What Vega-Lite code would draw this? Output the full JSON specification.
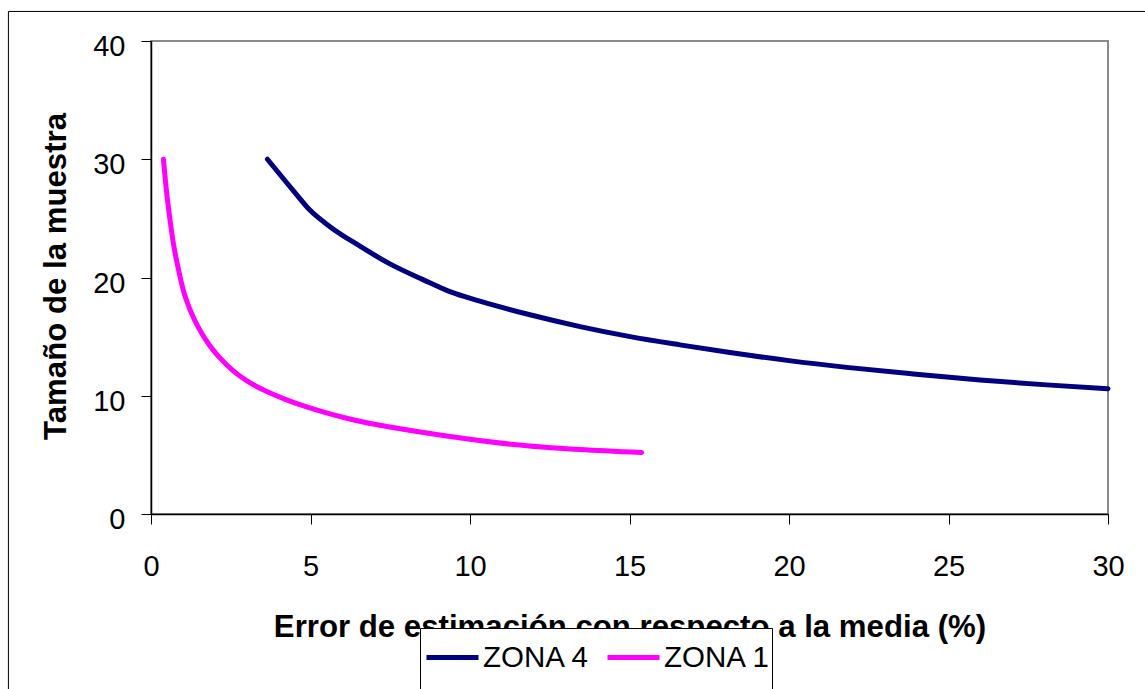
{
  "$schema": "https://vega.github.io/schema/vega-lite/v6.json",
  "width": 957,
  "height": 473,
  "autosize": {"type": "none"},
  "padding": {"left": 151, "top": 41, "right": 37, "bottom": 175},
  "background": "white",
  "config": {
    "view": {"stroke": "#8c8c8c", "strokeWidth": 2},
    "font": "Liberation Sans",
    "axis": {
      "grid": false,
      "domainColor": "#000000",
      "domainWidth": 1.5,
      "tickColor": "#000000",
      "tickWidth": 1,
      "tickSize": 10,
      "labelFont": "Liberation Sans",
      "labelFontSize": 29,
      "labelColor": "#000000",
      "labelFlush": false,
      "labelOverlap": false,
      "titleFont": "Liberation Sans",
      "titleFontSize": 31.2,
      "titleFontWeight": "bold",
      "titleColor": "#000000"
    }
  },
  "layer": [
    {
      "data": {"values": [{"frame": "outer"}]},
      "mark": {"type": "rect", "fill": null, "fillOpacity": 0, "stroke": "#000000", "strokeWidth": 1, "clip": false},
      "encoding": {
        "x": {"datum": -4.47, "type": "quantitative"},
        "x2": {"datum": 36},
        "y": {"datum": 42.5, "type": "quantitative"},
        "y2": {"datum": -20}
      }
    },
    {
      "data": {
        "values": [
          {"zona": "ZONA 4", "error": 3.65, "n": 30.0},
          {"zona": "ZONA 4", "error": 4.46, "n": 27.35},
          {"zona": "ZONA 4", "error": 4.98, "n": 25.7},
          {"zona": "ZONA 4", "error": 5.61, "n": 24.3},
          {"zona": "ZONA 4", "error": 6.55, "n": 22.65},
          {"zona": "ZONA 4", "error": 7.49, "n": 21.15},
          {"zona": "ZONA 4", "error": 8.54, "n": 19.8},
          {"zona": "ZONA 4", "error": 9.37, "n": 18.8},
          {"zona": "ZONA 4", "error": 10.31, "n": 18.0},
          {"zona": "ZONA 4", "error": 11.88, "n": 16.85},
          {"zona": "ZONA 4", "error": 13.45, "n": 15.85},
          {"zona": "ZONA 4", "error": 15.02, "n": 15.0},
          {"zona": "ZONA 4", "error": 16.58, "n": 14.3},
          {"zona": "ZONA 4", "error": 18.15, "n": 13.65},
          {"zona": "ZONA 4", "error": 20.0, "n": 12.97},
          {"zona": "ZONA 4", "error": 21.81, "n": 12.4},
          {"zona": "ZONA 4", "error": 23.9, "n": 11.84},
          {"zona": "ZONA 4", "error": 25.99, "n": 11.33},
          {"zona": "ZONA 4", "error": 28.08, "n": 10.92},
          {"zona": "ZONA 4", "error": 30.0, "n": 10.6},
          {"zona": "ZONA 1", "error": 0.39, "n": 30.0},
          {"zona": "ZONA 1", "error": 0.49, "n": 27.2},
          {"zona": "ZONA 1", "error": 0.6, "n": 24.8},
          {"zona": "ZONA 1", "error": 0.7, "n": 22.9},
          {"zona": "ZONA 1", "error": 0.86, "n": 20.7},
          {"zona": "ZONA 1", "error": 1.01, "n": 18.95},
          {"zona": "ZONA 1", "error": 1.22, "n": 17.3},
          {"zona": "ZONA 1", "error": 1.48, "n": 15.8},
          {"zona": "ZONA 1", "error": 1.8, "n": 14.4},
          {"zona": "ZONA 1", "error": 2.16, "n": 13.2},
          {"zona": "ZONA 1", "error": 2.58, "n": 12.1},
          {"zona": "ZONA 1", "error": 3.1, "n": 11.1},
          {"zona": "ZONA 1", "error": 3.63, "n": 10.35},
          {"zona": "ZONA 1", "error": 4.25, "n": 9.65},
          {"zona": "ZONA 1", "error": 4.88, "n": 9.05},
          {"zona": "ZONA 1", "error": 5.5, "n": 8.55},
          {"zona": "ZONA 1", "error": 6.13, "n": 8.1},
          {"zona": "ZONA 1", "error": 6.76, "n": 7.72},
          {"zona": "ZONA 1", "error": 7.49, "n": 7.36},
          {"zona": "ZONA 1", "error": 9.27, "n": 6.6},
          {"zona": "ZONA 1", "error": 11.36, "n": 5.88},
          {"zona": "ZONA 1", "error": 13.45, "n": 5.45},
          {"zona": "ZONA 1", "error": 15.38, "n": 5.2}
        ]
      },
      "mark": {"type": "line", "strokeWidth": 5, "strokeCap": "round", "strokeJoin": "round", "interpolate": "monotone"},
      "encoding": {
        "x": {
          "field": "error",
          "type": "quantitative",
          "scale": {"domain": [0, 30], "nice": false, "zero": false},
          "axis": {
            "values": [0, 5, 10, 15, 20, 25, 30],
            "title": "Error de estimación con respecto a la media (%)",
            "labelBaseline": "alphabetic",
            "labelPadding": 51,
            "titleX": 478.5,
            "titleY": 122,
            "titleAlign": "center",
            "titleBaseline": "alphabetic",
            "titleAnchor": null
          }
        },
        "y": {
          "field": "n",
          "type": "quantitative",
          "scale": {"domain": [0, 40], "nice": false, "zero": false},
          "axis": {
            "values": [0, 10, 20, 30, 40],
            "title": "Tamaño de la muestra",
            "labelBaseline": "alphabetic",
            "labelOffset": 14.5,
            "labelPadding": 16,
            "titleX": -86,
            "titleY": 235,
            "titleAngle": 270,
            "titleAlign": "center",
            "titleBaseline": "alphabetic"
          }
        },
        "color": {
          "field": "zona",
          "type": "nominal",
          "scale": {"domain": ["ZONA 4", "ZONA 1"], "range": ["#000080", "#ff00ff"]},
          "legend": {
            "orient": "none",
            "legendX": 269,
            "legendY": 587,
            "direction": "horizontal",
            "title": " ",
            "titleOrient": "bottom",
            "titleFontSize": 10,
            "titlePadding": 6,
            "fillColor": "#ffffff",
            "strokeColor": "#000000",
            "padding": 1,
            "symbolType": "stroke",
            "symbolSize": 2704,
            "symbolStrokeWidth": 5,
            "symbolOffset": 3,
            "labelFont": "Liberation Sans",
            "labelFontSize": 29.5,
            "labelColor": "#000000",
            "labelOffset": 2,
            "columnPadding": 7
          }
        },
        "order": {"field": "error", "type": "quantitative"}
      }
    }
  ]
}
